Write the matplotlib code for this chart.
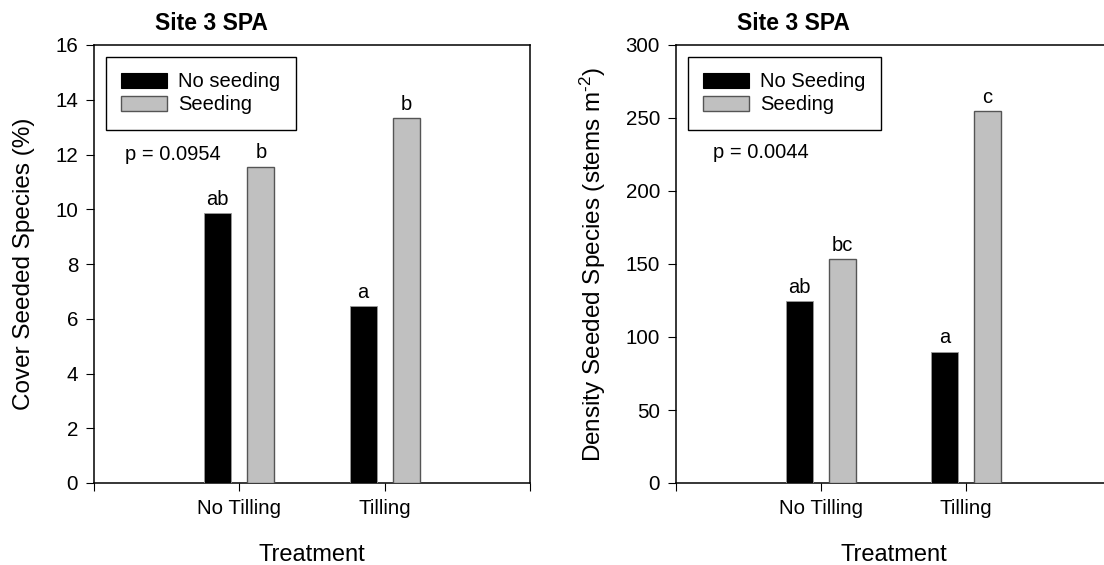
import matplotlib
matplotlib.use("Agg")
import matplotlib.pyplot as plt
from matplotlib.patches import Patch

plt.rcParams['font.family'] = ['Liberation Sans', 'DejaVu Sans']
plt.rcParams['mathtext.fontset'] = 'custom'
plt.rcParams['mathtext.rm'] = 'Liberation Sans'
plt.rcParams['mathtext.default'] = 'regular'

categories = ['No Tilling', 'Tilling']
title = 'Site 3 SPA'

cover_no_seed = [9.85, 6.45]
cover_seed = [11.55, 13.33]
cover_letters_no = ['ab', 'a']
cover_letters_seed = ['b', 'b']
cover_p = 'p = 0.0954'

dens_no_seed = [124.4, 90.0]
dens_seed = [153.5, 254.5]
dens_letters_no = ['ab', 'a']
dens_letters_seed = ['bc', 'c']
dens_p = 'p = 0.0044'

BLACK = '#000000'
GRAY = '#c0c0c0'

fig = plt.figure(figsize=(11.04, 5.65), dpi=100)
W, H = 1104, 565
ax1 = fig.add_axes([94 / W, 1 - 483 / H, 436 / W, 438 / H])
ax2 = fig.add_axes([676 / W, 1 - 483 / H, 435 / W, 438 / H])


def draw(ax, no, seed, lno, lseed, ymax, yticks, ylabel, ylpad, ptext, pxy, leg_labels):
    pos = [1, 2]
    off = 0.148
    w = 0.186
    b1 = ax.bar([p - off for p in pos], no, width=w, color=BLACK,
                edgecolor='#9a9a9a', linewidth=0.6, zorder=3)
    b2 = ax.bar([p + off for p in pos], seed, width=w, color=GRAY,
                edgecolor='#555555', linewidth=1.0, zorder=3)
    for rect, t in zip(b1, lno):
        ax.annotate(t, (rect.get_x() + rect.get_width() / 2, rect.get_height()),
                    xytext=(0, 6), textcoords='offset points', ha='center',
                    va='baseline', fontsize=14.5)
    for rect, t in zip(b2, lseed):
        ax.annotate(t, (rect.get_x() + rect.get_width() / 2, rect.get_height()),
                    xytext=(0, 6), textcoords='offset points', ha='center',
                    va='baseline', fontsize=14.5)
    ax.set_xlim(0, 3)
    ax.set_ylim(0, ymax)
    ax.set_xticks([0, 1, 2, 3])
    ax.set_xticklabels([''] + categories + [''])
    ax.set_yticks(yticks)
    ax.tick_params(axis='both', direction='out', length=5.5, width=0.8,
                   labelsize=14.8, pad=6)
    for s in ax.spines.values():
        s.set_linewidth(1.1)
    ax.set_ylabel(ylabel, fontsize=17.5, labelpad=ylpad)
    ax.set_xlabel('Treatment', fontsize=17, labelpad=19)
    ax.text(pxy[0], pxy[1], ptext, fontsize=14.5, va='baseline', ha='left')
    ax.text(0.27, 1.034, title, transform=ax.transAxes, fontsize=16.5,
            fontweight='bold', ha='center', va='baseline')
    handles = [Patch(facecolor=BLACK, edgecolor='#000000', linewidth=0.8),
               Patch(facecolor=GRAY, edgecolor='#555555', linewidth=1.0)]
    leg = ax.legend(handles, leg_labels, loc='upper left',
                    bbox_to_anchor=(0.027, 0.972), fontsize=14.5,
                    frameon=True, fancybox=False, framealpha=1,
                    edgecolor='black', handlelength=2.3, handleheight=0.75,
                    handletextpad=0.55, labelspacing=0.2, borderpad=0.75,
                    borderaxespad=0)
    leg.get_frame().set_linewidth(1.0)


draw(ax1, cover_no_seed, cover_seed, cover_letters_no, cover_letters_seed,
     16, range(0, 17, 2), 'Cover Seeded Species (%)', 14.5, cover_p, (0.213, 11.8),
     ['No seeding', 'Seeding'])
draw(ax2, dens_no_seed, dens_seed, dens_letters_no, dens_letters_seed,
     300, range(0, 301, 50), r'Density Seeded Species (stems m$^{\text{-}2}$)', 13,
     dens_p, (0.256, 222.6), ['No Seeding', 'Seeding'])

fig.savefig('out.png', dpi=100)
